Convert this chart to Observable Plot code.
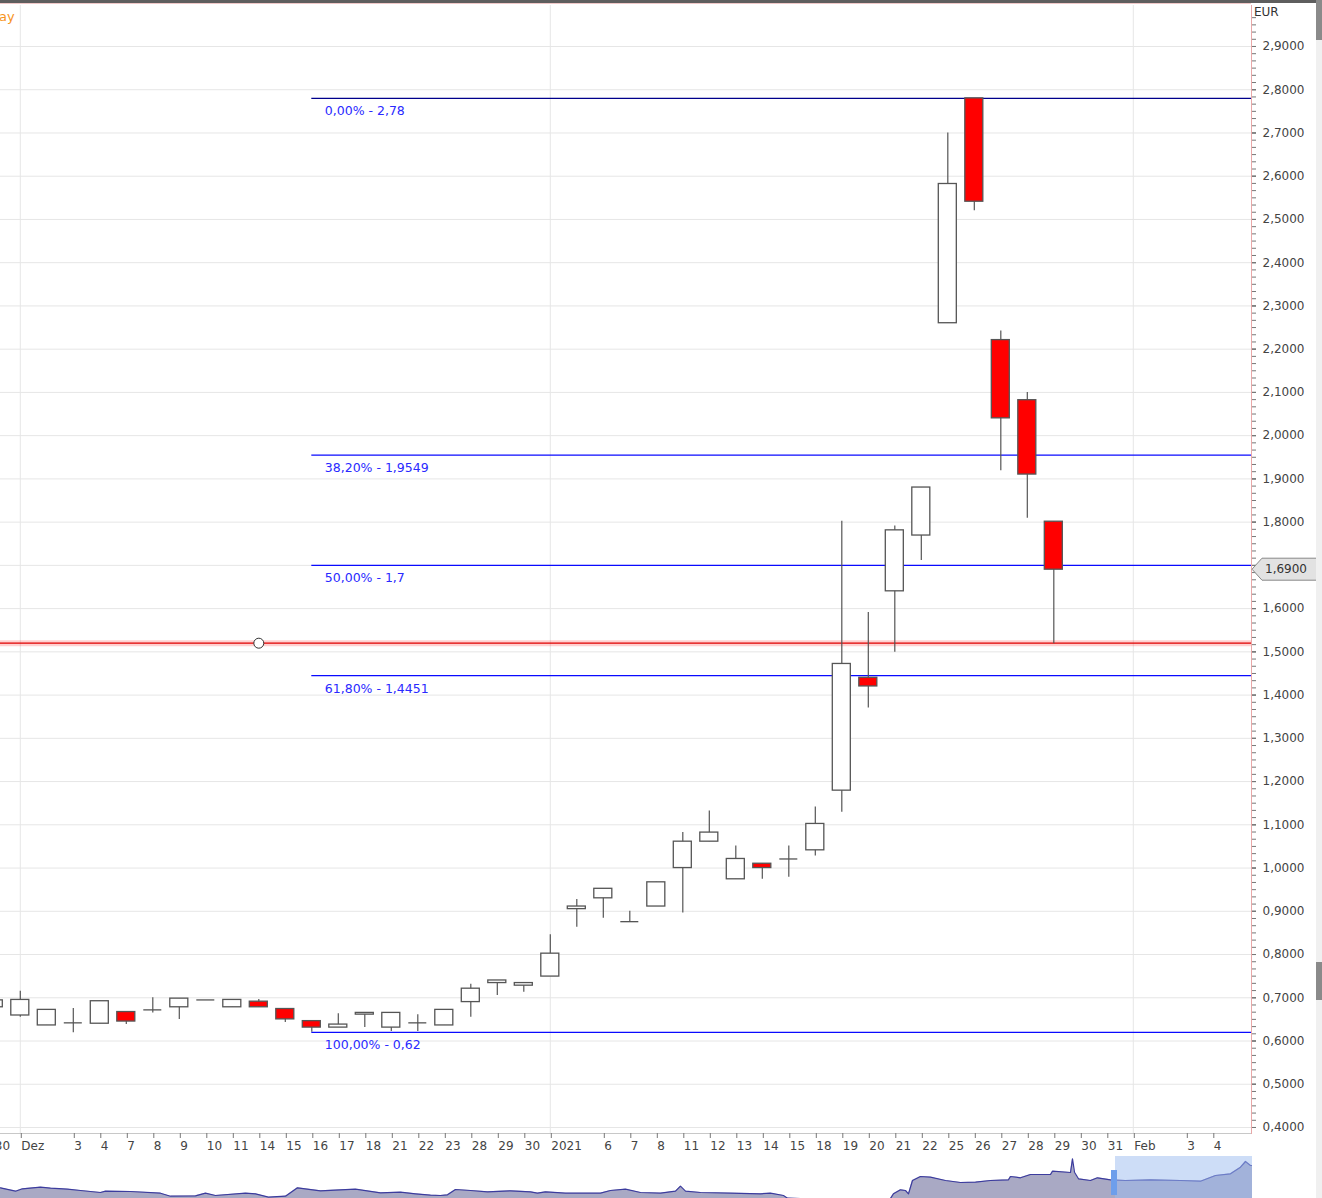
<!DOCTYPE html>
<html><head><meta charset="utf-8">
<script src="https://cdn.jsdelivr.net/npm/d3@7"></script>
<script src="https://cdn.jsdelivr.net/npm/@observablehq/plot@0.6"></script>
<style>
body{margin:0;background:#fff;font-family:"DejaVu Sans",sans-serif;}
#wrap{position:relative;width:1322px;height:1198px;overflow:hidden;background:#fff}
#main{position:absolute;left:0;top:0}
#nav{position:absolute;left:0;top:1150px}
.abs{position:absolute}
</style></head><body><div id="wrap"><div id="main"></div><div id="nav"></div></div>
<script>
// ---- data ----
// x tick labels, first entry is index -1 (30 Nov), empty = unlabelled trading day
const tickLabels = ["30","Dez","","3","4","7","8","9","10","11","14","15","16","17","18","21","22","23","28","29","30","2021","","6","7","8","11","12","13","14","15","18","19","20","21","22","25","26","27","28","29","30","31","Feb","","3","4"];
const monthStarts = ["Dez","2021","Feb"];
// daily candles from 30 Nov (index -1) to 29 Jan (index 39)
const open  = [0.678,0.659,0.636,0.642,0.640,0.667,0.672,0.678,0.695,0.678,0.691,0.674,0.646,0.631,0.661,0.631,0.642,0.636,0.690,0.734,0.728,0.749,0.905,0.930,0.876,0.911,1.000,1.061,0.974,1.010,1.021,1.041,1.179,1.440,1.640,1.769,2.260,2.780,2.221,2.082,1.801];
const high  = [0.700,0.715,0.672,0.675,0.692,0.667,0.700,0.698,0.695,0.695,0.696,0.674,0.646,0.663,0.665,0.665,0.661,0.672,0.731,0.740,0.734,0.846,0.927,0.952,0.900,0.967,1.082,1.132,1.051,1.010,1.051,1.141,1.802,1.591,1.791,1.880,2.700,2.780,2.242,2.100,1.801];
const low   = [0.672,0.655,0.636,0.619,0.640,0.638,0.665,0.650,0.695,0.678,0.678,0.643,0.620,0.631,0.631,0.622,0.622,0.636,0.655,0.705,0.713,0.749,0.863,0.884,0.876,0.911,0.896,1.061,0.974,0.974,0.979,1.028,1.129,1.370,1.499,1.711,2.260,2.520,1.919,1.809,1.519];
const close = [0.694,0.695,0.672,0.642,0.692,0.645,0.672,0.698,0.695,0.695,0.678,0.650,0.631,0.638,0.665,0.665,0.642,0.672,0.721,0.740,0.734,0.802,0.911,0.952,0.876,0.967,1.061,1.082,1.021,1.000,1.021,1.102,1.472,1.420,1.781,1.880,2.582,2.541,2.040,1.910,1.690];
// Fibonacci retracement
const fibPct = ["0,00%","38,20%","50,00%","61,80%","100,00%"];
const fibVal = [2.78,1.9549,1.7,1.4451,0.62];
const fibStartIdx = 11;
// horizontal support line
const supportLevel = 1.52;
const supportAnchorIdx = 9;
// y axis ticks
const yTicks = [0.4,0.5,0.6,0.7,0.8,0.9,1.0,1.1,1.2,1.3,1.4,1.5,1.6,1.7,1.8,1.9,2.0,2.1,2.2,2.3,2.4,2.5,2.6,2.7,2.8,2.9];
// navigator (long history) sparkline
const navT = [0,15,22,40,50,67,80,100,105,130,160,170,195,205,215,245,255,268,285,297,320,340,355,380,400,415,430,440,447,455,470,487,510,530,537,545,565,600,610,625,640,660,675,680,685,700,730,760,770,783,787,800,890,893,900,905,908,912,920,930,945,960,975,990,1008,1010,1020,1030,1050,1052,1070,1072,1074,1078,1090,1097,1110,1125,1150,1180,1200,1215,1230,1240,1245,1250,1252];
const navV = [10.7,7.3,9.7,11.3,10.3,9.3,8,6,7.3,7,5.3,2.3,2.7,5.3,3,5.3,4.7,1.3,2.3,10.7,7.7,8.7,9.3,5.7,6.3,4.7,3.3,3,3.7,9,8,6.7,7.7,6.7,5.3,6.7,5.3,5.3,8,9.3,6,5.3,7.3,12.3,7.3,6,5.3,4.7,5.3,3,0.3,0,0,4.7,8.7,8,4.7,18,22,21.3,18,16,16.3,18,18.7,22,20.7,24,24,27.3,26,39.7,26.3,19.7,18,20.7,18.7,18,18.7,18,17.3,23,24.7,31.3,37,33,33];
const navSelStart = 1115, navSelEnd = 1252;

// ---- build ----
const candles = open.map((o,k)=>({i:k-1,o,h:high[k],l:low[k],c:close[k]}));
const ticks = tickLabels.map((t,k)=>({i:k-1,t})).filter(d=>d.t!=="");
const monthIdx = ticks.filter(d=>monthStarts.includes(d.t)).map(d=>d.i);
const fib = fibPct.map((p,k)=>({p,v:fibVal[k],label:p+" - "+String(fibVal[k]).replace(".",",")}));
const fibTop = fib.filter(d=>d.p==="0,00%");
const fibRest = fib.filter(d=>d.p!=="0,00%");
const minorTicks = d3.range(0.4,2.98,0.1/6);
const xDomain = [-0.747, 46.46];
const yDomain = [0.3861, 2.9948];
const lastClose = close[close.length-1];
const labelTicks = yTicks.filter(v=>Math.abs(v-lastClose)>0.03); // label hidden behind price tag
const bw = 0.34;

const chart = Plot.plot({
  width:1316, height:1160,
  marginLeft:0, marginRight:65, marginTop:5, marginBottom:27,
  x:{type:"linear", domain:xDomain, axis:null, label:null},
  y:{type:"linear", domain:yDomain, axis:null, label:null},
  color:{type:"identity"},
  style:{fontFamily:"DejaVu Sans", fontSize:"12px", color:"#333", background:"#fff"},
  marks:[
    Plot.gridY(yTicks,{stroke:"#e6e6e6", strokeOpacity:1}),
    Plot.gridX(monthIdx,{stroke:"#e6e6e6", strokeOpacity:1}),
    Plot.frame({anchor:"bottom", stroke:"#c8c8c8"}),
    Plot.frame({anchor:"right", stroke:"#e8a8a8"}),
    Plot.axisY(minorTicks,{anchor:"right", tickSize:4, tickFormat:()=>"", stroke:"#777", label:null}),
    Plot.axisY(yTicks,{anchor:"right", tickSize:4, tickFormat:()=>"", stroke:"#777", label:null}),
    Plot.axisY(labelTicks,{anchor:"right", tickSize:4, tickPadding:7, tickFormat:d=>d.toFixed(4).replace(".",","), stroke:"#777", fill:"#444", fontSize:12, label:null}),
    Plot.axisX(ticks.map(d=>d.i),{anchor:"bottom", tickSize:5, tickPadding:3, tickFormat:i=>tickLabels[i+1], textAnchor:"start", dx:1, stroke:"#777", fill:"#444", fontSize:12, label:null}),
    // support line with glow
    Plot.ruleY([supportLevel],{stroke:"#ff0000", strokeOpacity:0.18, strokeWidth:6}),
    Plot.ruleY([supportLevel],{stroke:"#e00000", strokeWidth:1.2}),
    // fib lines
    Plot.ruleY(fibTop,{y:"v", x1:fibStartIdx, x2:xDomain[1], stroke:"#00008c", strokeWidth:1.2}),
    Plot.ruleY(fibRest,{y:"v", x1:fibStartIdx, x2:xDomain[1], stroke:"#0a0aff", strokeWidth:1.3}),
    Plot.text(fib,{x:fibStartIdx, y:"v", text:"label", textAnchor:"start", dx:13, dy:13, fill:"#2a2aff", fontSize:12.5}),
    // candles
    Plot.ruleX(candles,{x:"i", y1:"l", y2:"h", stroke:"#555", strokeWidth:1.2}),
    Plot.rect(candles,{x1:d=>d.i-bw, x2:d=>d.i+bw, y1:"o", y2:"c", fill:d=>d.c<d.o?"#ff0000":"#ffffff", stroke:"#555", strokeWidth:1.3}),
    Plot.ruleY(candles,{filter:d=>d.o===d.c, y:"o", x1:d=>d.i-bw, x2:d=>d.i+bw, stroke:"#555", strokeWidth:1.3}),
    Plot.dot([{i:supportAnchorIdx, v:supportLevel}],{x:"i", y:"v", r:5, fill:"#fff", stroke:"#333", strokeWidth:1})
  ]
});
document.getElementById("main").appendChild(chart);

// current price tag
const ys = chart.scale("y").apply(lastClose);
const xr = 1251;
const g = d3.select(chart).append("g");
g.append("path").attr("d",`M${xr+1},${ys} L${xr+11},${ys-11} L${xr+66},${ys-11} L${xr+66},${ys+11} L${xr+11},${ys+11} Z`).attr("fill","#e2e2e2").attr("stroke","#888");
g.append("text").attr("x",xr+14).attr("y",ys).attr("dy","0.35em").attr("text-anchor","start").attr("font-size",12).attr("fill","#333").text(lastClose.toFixed(4).replace(".",","));

// navigator
const navData = navT.map((t,k)=>({t,v:navV[k]}));
const nav = Plot.plot({
  width:1252, height:48, margin:0,
  x:{domain:[0,1252], axis:null, label:null},
  y:{domain:[0,48], axis:null, label:null},
  style:{background:"transparent"},
  marks:[
    Plot.areaY(navData,{x:"t", y:"v", fill:"#a9a9c4"}),
    Plot.lineY(navData,{x:"t", y:"v", stroke:"#3c3c9e", strokeWidth:1.2}),
    Plot.rect([{a:navSelStart,b:navSelEnd}],{x1:"a", x2:"b", y1:0, y2:42, fill:"#9bbcf0", fillOpacity:0.5}),
    Plot.rect([{a:navSelStart-4,b:navSelStart+2}],{x1:"a", x2:"b", y1:3, y2:28, fill:"#6d9eeb"})
  ]
});
document.getElementById("nav").appendChild(nav);

// chrome: top border, scrollbar, labels
const wrap = document.getElementById("wrap");
function addDiv(css, text){const d=document.createElement("div");d.className="abs";d.style.cssText=css;if(text)d.textContent=text;wrap.appendChild(d);return d;}
addDiv("left:0;top:0;width:1316px;height:3px;background:#5e5e5e");
addDiv("left:0;top:3px;width:1251px;height:1px;background:#f0c8c8");
addDiv("left:1316px;top:0;width:6px;height:1198px;background:#f0f0f0");
addDiv("left:1316px;top:0;width:6px;height:40px;background:#8a8a8a");
addDiv("left:1316px;top:962px;width:6px;height:38px;background:#8a8a8a");
addDiv("left:1254px;top:5px;font-size:12px;color:#333;font-family:'DejaVu Sans'","EUR");
addDiv("left:-1px;top:9px;font-size:13px;color:#f7941d;font-family:'DejaVu Sans'","ay");
</script></body></html>
